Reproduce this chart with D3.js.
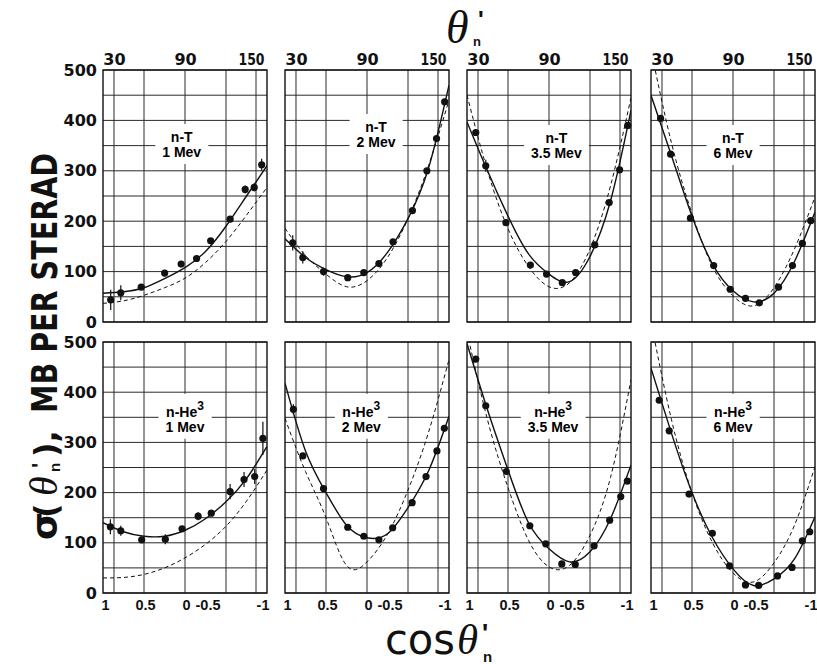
<!DOCTYPE html>
<html><head><meta charset="utf-8">
<script src="https://cdn.jsdelivr.net/npm/d3@7"></script>
<style>body{margin:0;background:#fff}svg{display:block}</style>
</head><body><svg id="c" width="817" height="664"></svg>
<script>
// ---------------- data ----------------
const curveCos = [1, 0.75, 0.5, 0.25, 0, -0.25, -0.5, -0.75, -1];
const yTickValues = [0, 100, 200, 300, 400, 500];
const yGridValues = [0, 50, 100, 150, 200, 250, 300, 350, 400, 450, 500];
const gridCos = [0.866, 0.5, 0, -0.5, -0.866];
const topTickAngles = [30, 90, 150];
const bottomTickCos = [1, 0.5, 0, -0.5, -1];
const bottomTickLabels = ["1", "0.5", "0", "-0.5", "-1"];

const reactions = ["n-T", "n-T", "n-T", "n-T", "n-He", "n-He", "n-He", "n-He"];
const energies = ["1 Mev", "2 Mev", "3.5 Mev", "6 Mev", "1 Mev", "2 Mev", "3.5 Mev", "6 Mev"];

// n-T 1 Mev
const nT1_cos = [0.906, 0.783, 0.534, 0.248, 0.047, -0.141, -0.313, -0.55, -0.734, -0.844, -0.935];
const nT1_val = [44, 58, 69, 97, 115, 126, 161, 204, 263, 267, 312];
const nT1_err = [20, 15, 0, 6, 0, 0, 0, 0, 8, 8, 12];
const nT1_solid = [57, 60, 68, 86, 108, 140, 190, 250, 310];
const nT1_dash = [37, 42, 53, 68, 87, 118, 160, 212, 267];
// n-T 2 Mev
const nT2_cos = [0.906, 0.783, 0.530, 0.235, 0.039, -0.145, -0.317, -0.554, -0.730, -0.848, -0.947];
const nT2_val = [157, 128, 100, 88, 98, 116, 159, 221, 300, 364, 437];
const nT2_err = [15, 12, 8, 0, 0, 0, 0, 0, 0, 0, 0];
const nT2_solid = [165, 128, 104, 90, 98, 138, 205, 305, 470];
const nT2_dash = [186, 132, 95, 70, 82, 128, 205, 310, 440];
// n-T 3.5 Mev
const nT3_cos = [0.893, 0.771, 0.525, 0.227, 0.03, -0.162, -0.325, -0.558, -0.734, -0.861, -0.96];
const nT3_val = [376, 310, 197, 113, 95, 78, 98, 153, 237, 302, 390];
const nT3_err = [0, 12, 0, 0, 0, 0, 0, 0, 0, 0, 0];
const nT3_solid = [397, 300, 210, 135, 95, 80, 130, 240, 420];
const nT3_dash = [450, 300, 185, 110, 70, 78, 145, 270, 445];
// n-T 6 Mev
const nT4_cos = [0.883, 0.761, 0.519, 0.236, 0.034, -0.152, -0.321, -0.555, -0.725, -0.846, -0.948];
const nT4_val = [404, 333, 206, 112, 65, 47, 38, 69, 112, 156, 201];
const nT4_err = [0, 0, 0, 0, 0, 0, 0, 0, 0, 0, 0];
const nT4_solid = [450, 330, 210, 115, 62, 40, 57, 120, 218];
const nT4_dash = [540, 355, 215, 110, 52, 32, 68, 145, 248];
// n-He3 1 Mev
const nH1_cos = [0.91, 0.783, 0.528, 0.24, 0.036, -0.16, -0.32, -0.55, -0.72, -0.85, -0.95];
const nH1_val = [132, 124, 106, 107, 128, 153, 159, 202, 226, 232, 308];
const nH1_err = [15, 10, 0, 10, 0, 8, 0, 15, 15, 15, 33];
const nH1_solid = [140, 122, 113, 113, 125, 148, 182, 228, 292];
const nH1_dash = [30, 31, 37, 50, 70, 97, 133, 183, 245];
// n-He3 2 Mev
const nH2_cos = [0.898, 0.783, 0.53, 0.235, 0.039, -0.145, -0.313, -0.55, -0.72, -0.853, -0.943];
const nH2_val = [366, 273, 208, 131, 113, 106, 130, 180, 232, 283, 328];
const nH2_err = [10, 0, 0, 0, 0, 0, 0, 0, 0, 0, 0];
const nH2_solid = [418, 283, 200, 135, 110, 118, 170, 243, 352];
const nH2_dash = [348, 242, 150, 55, 62, 117, 205, 320, 465];
// n-He3 3.5 Mev
const nH3_cos = [0.893, 0.771, 0.52, 0.234, 0.04, -0.156, -0.32, -0.55, -0.74, -0.875, -0.955];
const nH3_val = [466, 373, 242, 134, 98, 58, 57, 94, 145, 192, 223];
const nH3_err = [0, 0, 0, 0, 0, 0, 0, 0, 0, 0, 0];
const nH3_solid = [497, 365, 245, 140, 88, 62, 82, 148, 255];
const nH3_dash = [520, 345, 210, 105, 52, 55, 115, 230, 425];
// n-He3 6 Mev
const nH4_cos = [0.9, 0.778, 0.536, 0.252, 0.042, -0.152, -0.313, -0.543, -0.72, -0.846, -0.936];
const nH4_val = [384, 323, 197, 119, 54, 16, 15, 34, 51, 104, 122];
const nH4_err = [0, 0, 0, 0, 0, 0, 0, 0, 0, 0, 0];
const nH4_solid = [448, 318, 200, 110, 48, 15, 28, 68, 152];
const nH4_dash = [540, 345, 200, 100, 40, 22, 60, 135, 252];

// ---------------- layout ----------------
const panelCos = [nT1_cos, nT2_cos, nT3_cos, nT4_cos, nH1_cos, nH2_cos, nH3_cos, nH4_cos];
const panelVal = [nT1_val, nT2_val, nT3_val, nT4_val, nH1_val, nH2_val, nH3_val, nH4_val];
const panelErr = [nT1_err, nT2_err, nT3_err, nT4_err, nH1_err, nH2_err, nH3_err, nH4_err];
const panelSolid = [nT1_solid, nT2_solid, nT3_solid, nT4_solid, nH1_solid, nH2_solid, nH3_solid, nH4_solid];
const panelDash = [nT1_dash, nT2_dash, nT3_dash, nT4_dash, nH1_dash, nH2_dash, nH3_dash, nH4_dash];
// label anchor (in cos / value units) for each panel
const labelCos = [0.04, -0.11, -0.09, 0.0, 0.0, 0.07, -0.05, 0.0];
const labelVal = [357, 377, 355, 355, 351, 351, 351, 351];

const colX = [103, 285, 467, 651];
const PW = 164;
const rowY = [[70, 322], [342, 593]];

const svg = d3.select("#c");
const SANS = "'Liberation Sans', Arial, sans-serif";
const DJ = "'DejaVu Sans', sans-serif";
const SERIF = "'Liberation Serif', 'DejaVu Serif', serif";

for (let i = 0; i < 8; i++) {
  const r = Math.floor(i / 4), c = i % 4;
  const x = d3.scaleLinear().domain([1, -1]).range([colX[c], colX[c] + PW]);
  const y = d3.scaleLinear().domain([0, 500]).range([rowY[r][1], rowY[r][0]]);
  const g = svg.append("g");

  const clipId = "clip" + i;
  svg.append("clipPath").attr("id", clipId).append("rect")
    .attr("x", x(1)).attr("y", y(500)).attr("width", x(-1) - x(1)).attr("height", y(0) - y(500));

  // grid
  g.selectAll(".hg").data(yGridValues).join("line")
    .attr("x1", x(1)).attr("x2", x(-1)).attr("y1", d => y(d)).attr("y2", d => y(d))
    .attr("stroke", "#2a2a2a").attr("stroke-width", 1);
  g.selectAll(".vg").data(gridCos).join("line")
    .attr("x1", d => x(d)).attr("x2", d => x(d)).attr("y1", y(0)).attr("y2", y(500))
    .attr("stroke", "#2a2a2a").attr("stroke-width", 1);
  g.append("rect").attr("x", x(1)).attr("y", y(500)).attr("width", x(-1) - x(1)).attr("height", y(0) - y(500))
    .attr("fill", "none").attr("stroke", "#111").attr("stroke-width", 1.4);

  // panel label with white box
  const lg = g.append("g");
  const lx = x(labelCos[i]), ly = y(labelVal[i]);
  const t1 = lg.append("text").attr("x", lx).attr("y", ly).attr("text-anchor", "middle")
    .attr("font-family", SANS).attr("font-weight", "bold").attr("font-size", 14);
  if (r === 0) {
    t1.text(reactions[i]);
  } else {
    t1.append("tspan").text(reactions[i]);
    t1.append("tspan").attr("dy", -7).attr("font-size", 12).text("3");
  }
  const t2 = lg.append("text").attr("x", lx).attr("y", ly + 15).attr("text-anchor", "middle")
    .attr("font-family", SANS).attr("font-weight", "bold").attr("font-size", 14).text(energies[i]);
  const b1 = t1.node().getBBox(), b2 = t2.node().getBBox();
  const bx0 = Math.min(b1.x, b2.x) - 7, bx1 = Math.max(b1.x + b1.width, b2.x + b2.width) + 7;
  lg.insert("rect", "text").attr("x", bx0).attr("y", b1.y - 5)
    .attr("width", bx1 - bx0).attr("height", b2.y + b2.height - b1.y + 9).attr("fill", "#fff");

  // curves
  const line = d3.line().x(d => x(d[0])).y(d => y(d[1])).curve(d3.curveNatural);
  const cg = g.append("g").attr("clip-path", `url(#${clipId})`);
  cg.append("path").attr("d", line(curveCos.map((cv, k) => [cv, panelDash[i][k]])))
    .attr("fill", "none").attr("stroke", "#111").attr("stroke-width", 1).attr("stroke-dasharray", "4,3");
  cg.append("path").attr("d", line(curveCos.map((cv, k) => [cv, panelSolid[i][k]])))
    .attr("fill", "none").attr("stroke", "#111").attr("stroke-width", 1.4);

  // points + error bars
  const pts = panelCos[i].map((cv, k) => ({ c: cv, v: panelVal[i][k], e: panelErr[i][k] }));
  g.selectAll(".eb").data(pts.filter(p => p.e > 0)).join("line")
    .attr("x1", d => x(d.c)).attr("x2", d => x(d.c)).attr("y1", d => y(d.v - d.e)).attr("y2", d => y(d.v + d.e))
    .attr("stroke", "#111").attr("stroke-width", 1.2);
  g.selectAll(".pt").data(pts).join("circle")
    .attr("cx", d => x(d.c)).attr("cy", d => y(d.v)).attr("r", 3.6).attr("fill", "#111");

  // axes
  if (c === 0) {
    const ax = g.append("g").attr("transform", `translate(${x(1)},0)`)
      .call(d3.axisLeft(y).tickValues(yTickValues).tickSize(0).tickPadding(6).tickFormat(d3.format("d")));
    ax.select(".domain").remove();
    ax.selectAll("text").attr("font-family", DJ).attr("font-weight", "bold").attr("font-size", 16).attr("fill", "#111");
  }
  if (r === 0) {
    const ax = g.append("g").attr("transform", `translate(0,${y(500)})`)
      .call(d3.axisTop(x).tickValues(topTickAngles.map(a => Math.cos(a * Math.PI / 180)))
        .tickSize(0).tickPadding(5).tickFormat((d, k) => String(topTickAngles[k])));
    ax.select(".domain").remove();
    ax.selectAll("text").attr("font-family", DJ).attr("font-weight", "bold").attr("font-size", 16).attr("fill", "#111")
      .each(function (d, k) {
        if (String(topTickAngles[k]).length > 2) {
          d3.select(this).attr("font-size", 15).attr("textLength", 26)
            .attr("lengthAdjust", "spacingAndGlyphs").attr("x", -5);
        }
      });
  } else {
    const ax = g.append("g").attr("transform", `translate(0,${y(0)})`)
      .call(d3.axisBottom(x).tickValues(bottomTickCos).tickSize(0).tickPadding(7)
        .tickFormat((d, k) => bottomTickLabels[k]));
    ax.select(".domain").remove();
    ax.selectAll("text").attr("font-family", SANS).attr("font-weight", "bold").attr("font-size", 14.5).attr("fill", "#111")
      .attr("text-anchor", (d, k) => k === 0 ? "start" : (k === 4 ? "end" : (bottomTickLabels[k].startsWith("-") ? "end" : "middle")))
      .attr("x", (d, k) => k === 0 ? -2 : (k === 4 ? 2 : (bottomTickLabels[k].startsWith("-") ? -6 : 1)));
  }
}

// ---------------- axis titles ----------------
// top θ'n
svg.append("text").attr("x", 446).attr("y", 43).attr("font-family", SERIF).attr("font-style", "italic")
  .attr("font-size", 46).attr("fill", "#111").text("θ");
svg.append("text").attr("x", 478).attr("y", 28).attr("font-family", SANS).attr("font-weight", "bold")
  .attr("font-size", 24).attr("fill", "#111").text("'");
svg.append("text").attr("x", 473).attr("y", 46).attr("font-family", SANS).attr("font-weight", "bold")
  .attr("font-size", 13).attr("fill", "#111").text("n");

// bottom cos θ'n
svg.append("text").attr("x", 385).attr("y", 654).attr("font-family", DJ)
  .attr("font-size", 42).attr("textLength", 70).attr("lengthAdjust", "spacingAndGlyphs").attr("fill", "#111").text("cos");
svg.append("text").attr("x", 457).attr("y", 654).attr("font-family", SERIF).attr("font-style", "italic")
  .attr("font-size", 43).attr("fill", "#111").text("θ");
svg.append("text").attr("x", 482).attr("y", 642).attr("font-family", SANS).attr("font-weight", "bold")
  .attr("font-size", 26).attr("fill", "#111").text("'");
svg.append("text").attr("x", 483).attr("y", 662).attr("font-family", SANS).attr("font-weight", "bold")
  .attr("font-size", 15).attr("fill", "#111").text("n");

// left rotated label
const yl = svg.append("g").attr("transform", "translate(57,540) rotate(-90)");
yl.append("text").attr("x", 0).attr("y", 0).attr("font-family", DJ).attr("font-weight", "bold")
  .attr("font-size", 36).attr("fill", "#111").text("σ");
yl.append("text").attr("x", 22).attr("y", 0).attr("font-family", DJ).attr("font-weight", "bold")
  .attr("font-size", 32).attr("fill", "#111").text("(");
yl.append("text").attr("x", 44).attr("y", 0).attr("font-family", SERIF).attr("font-style", "italic")
  .attr("font-size", 40).attr("fill", "#111").text("θ");
yl.append("text").attr("x", 72).attr("y", -10).attr("font-family", SANS).attr("font-weight", "bold")
  .attr("font-size", 22).attr("fill", "#111").text("'");
yl.append("text").attr("x", 68).attr("y", 3).attr("font-family", SANS).attr("font-weight", "bold")
  .attr("font-size", 15).attr("fill", "#111").text("n");
yl.append("text").attr("x", 83).attr("y", 0).attr("font-family", DJ).attr("font-weight", "bold")
  .attr("font-size", 32).attr("fill", "#111").text("),");
yl.append("text").attr("x", 127).attr("y", 0).attr("font-family", DJ).attr("font-weight", "bold")
  .attr("font-size", 36).attr("textLength", 260).attr("lengthAdjust", "spacingAndGlyphs")
  .attr("fill", "#111").text("MB PER STERAD");
</script></body></html>
